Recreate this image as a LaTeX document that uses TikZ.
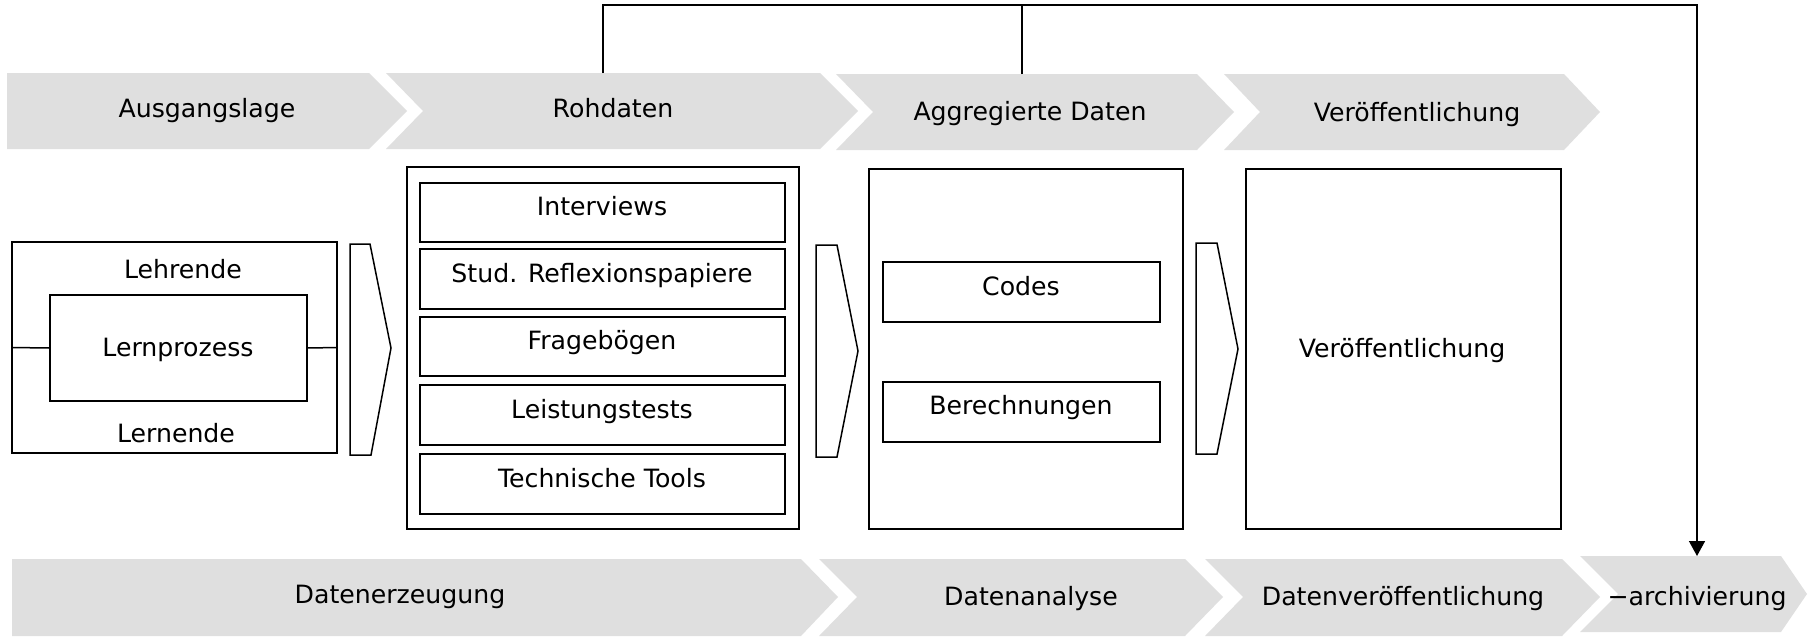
\documentclass[tikz,border=0pt]{standalone}
\usepackage{fontspec}
\setmainfont{DejaVu Sans}
\usetikzlibrary{arrows.meta,fit}
\definecolor{chevgray}{RGB}{223,223,223}
\begin{document}
\begin{tikzpicture}[x=1pt,y=-1pt,
  chev/.style={fill=chevgray,draw=none},
  lbl/.style={anchor=base,inner sep=0pt,font=\fontsize{25.2}{30}\selectfont},
  box/.style={draw,line width=1.5pt,inner sep=0pt},
  ln/.style={line width=1.5pt},
  pent/.style={draw,line width=1.5pt,line join=miter}]
\useasboundingbox (0,0) rectangle (1808,637);
% top chevrons
\fill[chev] (7,73) -- (369,73) -- (407,111) -- (369,149) -- (7,149) -- cycle;
\fill[chev] (386,73) -- (820,73) -- (858,111) -- (820,149) -- (386,149) -- (423,111) -- cycle;
\fill[chev] (836,74) -- (1197,74) -- (1234,112) -- (1197,150) -- (836,150) -- (873,112) -- cycle;
\fill[chev] (1224,74) -- (1564,74) -- (1600,112) -- (1564,150) -- (1224,150) -- (1260,112) -- cycle;
% bottom chevrons
\fill[chev] (12,559) -- (801,559) -- (838,597) -- (801,636) -- (12,636) -- cycle;
\fill[chev] (819,559) -- (1185,559) -- (1223,597) -- (1185,636) -- (819,636) -- (857,597) -- cycle;
\fill[chev] (1205,559) -- (1562,559) -- (1600,597) -- (1562,636) -- (1205,636) -- (1243,597) -- cycle;
\fill[chev] (1580,556) -- (1781,556) -- (1807,594) -- (1781,632) -- (1580,632) -- (1618,594) -- cycle;
% chevron labels
\node[lbl] (t1) at (207,117) {Ausgangslage};
\node[lbl] (t2) at (613,117) {Rohdaten};
\node[lbl] (t3) at (1030,120) {Aggregierte Daten};
\node[lbl] (t4) at (1417,121) {Veröffentlichung};
\node[lbl] (b1) at (400,603) {Datenerzeugung};
\node[lbl] (b2) at (1031,605) {Datenanalyse};
\node[lbl] (b3) at (1403,605) {Datenveröffentlichung};
\node[lbl] (b4) at (1697,605) {−archivierung};
% feedback connector
\coordinate (c2top) at (603,73);
\coordinate (c3top) at (1022,74);
\coordinate (b4top) at (1697,556);
\coordinate (topy) at (603,5);
\draw[ln,line join=miter,-{Triangle[length=15pt,width=16pt]}] (c2top) -- (topy) -| (b4top);
\draw[ln] (c3top) -- (c3top |- topy);
% left group
\node[box,fit={(12,242)(337,453)}] (outer) {};
\node[box,fit={(50,295)(307,401)}] (inner) {};
\draw[ln] (outer.west) -- (inner.west);
\draw[ln] (inner.east) -- (outer.east);
\node[lbl] (lehr) at (183,278) {Lehrende};
\node[lbl] (lernp) at (178,356) {Lernprozess};
\node[lbl] (lern) at (176,442) {Lernende};
% pentagon arrows
\draw[pent] (350,244) -- (370,244) -- (391,348) -- (371,455) -- (350,455) -- cycle;
\draw[pent] (816,245) -- (837,245) -- (858,351) -- (837,457) -- (816,457) -- cycle;
\draw[pent] (1196,243) -- (1217,243) -- (1238,349) -- (1217,454) -- (1196,454) -- cycle;
% Rohdaten box
\node[box,fit={(407,167)(799,529)}] (roh) {};
\node[box,fit={(420,183)(785,242)}] (r1) {};
\node[box,fit={(420,249)(785,309)}] (r2) {};
\node[box,fit={(420,317)(785,376)}] (r3) {};
\node[box,fit={(420,385)(785,445)}] (r4) {};
\node[box,fit={(420,454)(785,514)}] (r5) {};
\node[lbl] (l1) at (602,215) {Interviews};
\node[lbl] (l2) at (602,282) {Stud. Reflexionspapiere};
\node[lbl] (l3) at (602,349) {Fragebögen};
\node[lbl] (l4) at (602,418) {Leistungstests};
\node[lbl] (l5) at (602,487) {Technische Tools};
% Aggregierte box
\node[box,fit={(869,169)(1183,529)}] (agg) {};
\node[box,fit={(883,262)(1160,322)}] (codes) {};
\node[box,fit={(883,382)(1160,442)}] (ber) {};
\node[lbl] (lc) at (1021,295) {Codes};
\node[lbl] (lb) at (1021,414) {Berechnungen};
% Veroeffentlichung box
\node[box,fit={(1246,169)(1561,529)}] (ver) {};
\node[lbl] (lv) at (1402,357) {Veröffentlichung};
\end{tikzpicture}
\end{document}
